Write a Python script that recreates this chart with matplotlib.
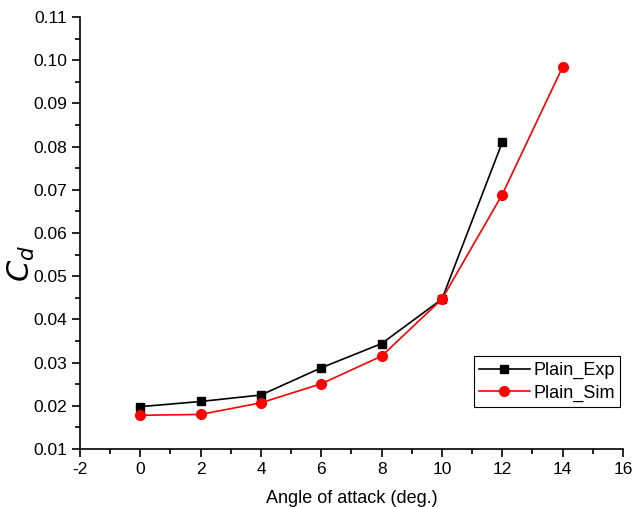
import matplotlib.pyplot as plt
from matplotlib.ticker import MultipleLocator

plt.rcParams['font.family'] = ['Liberation Sans', 'DejaVu Sans']
plt.rcParams['axes.unicode_minus'] = False

# Drag coefficient vs angle of attack
aoa_exp = [0, 2, 4, 6, 8, 10, 12]
cd_exp = [0.0198, 0.0210, 0.0225, 0.0288, 0.0344, 0.0447, 0.0810]

aoa_sim = [0, 2, 4, 6, 8, 10, 12, 14]
cd_sim = [0.0178, 0.0180, 0.0207, 0.0251, 0.0315, 0.0447, 0.0689, 0.0984]

fig = plt.figure(figsize=(6.32, 5.07), dpi=100)
ax = fig.add_axes([0.1266, 0.1144, 0.859, 0.8521])

ax.plot(aoa_exp, cd_exp, color='black', marker='s', ms=6, lw=1.2, label='Plain_Exp')
ax.plot(aoa_sim, cd_sim, color='red', marker='o', ms=7, lw=1.2, label='Plain_Sim')

ax.set_xlim(-2, 16)
ax.set_ylim(0.01, 0.11)
ax.xaxis.set_major_locator(MultipleLocator(2))
ax.xaxis.set_minor_locator(MultipleLocator(1))
ax.yaxis.set_major_locator(MultipleLocator(0.01))
ax.yaxis.set_minor_locator(MultipleLocator(0.005))
ax.yaxis.set_major_formatter(plt.FormatStrFormatter('%.2f'))
ax.tick_params(which='major', direction='out', length=6, width=1.2, labelsize=12.5)
ax.tick_params(which='minor', direction='out', length=3.5, width=1.2)

for s in ['top', 'right']:
    ax.spines[s].set_visible(False)
for s in ['left', 'bottom']:
    ax.spines[s].set_linewidth(1.2)

ax.set_xlabel('Angle of attack (deg.)', fontsize=13, labelpad=9)
ax.set_ylabel('$C_d$', fontsize=22)
ax.yaxis.set_label_coords(-0.08, 0.43)

leg = ax.legend(loc='lower right', bbox_to_anchor=(0.995, 0.097), borderaxespad=0,
                fontsize=13, fancybox=False, edgecolor='black', framealpha=1,
                handlelength=2.8, borderpad=0.3, labelspacing=0.3, handletextpad=0.2)
leg.get_frame().set_linewidth(0.8)

plt.savefig('out.png', dpi=100)
